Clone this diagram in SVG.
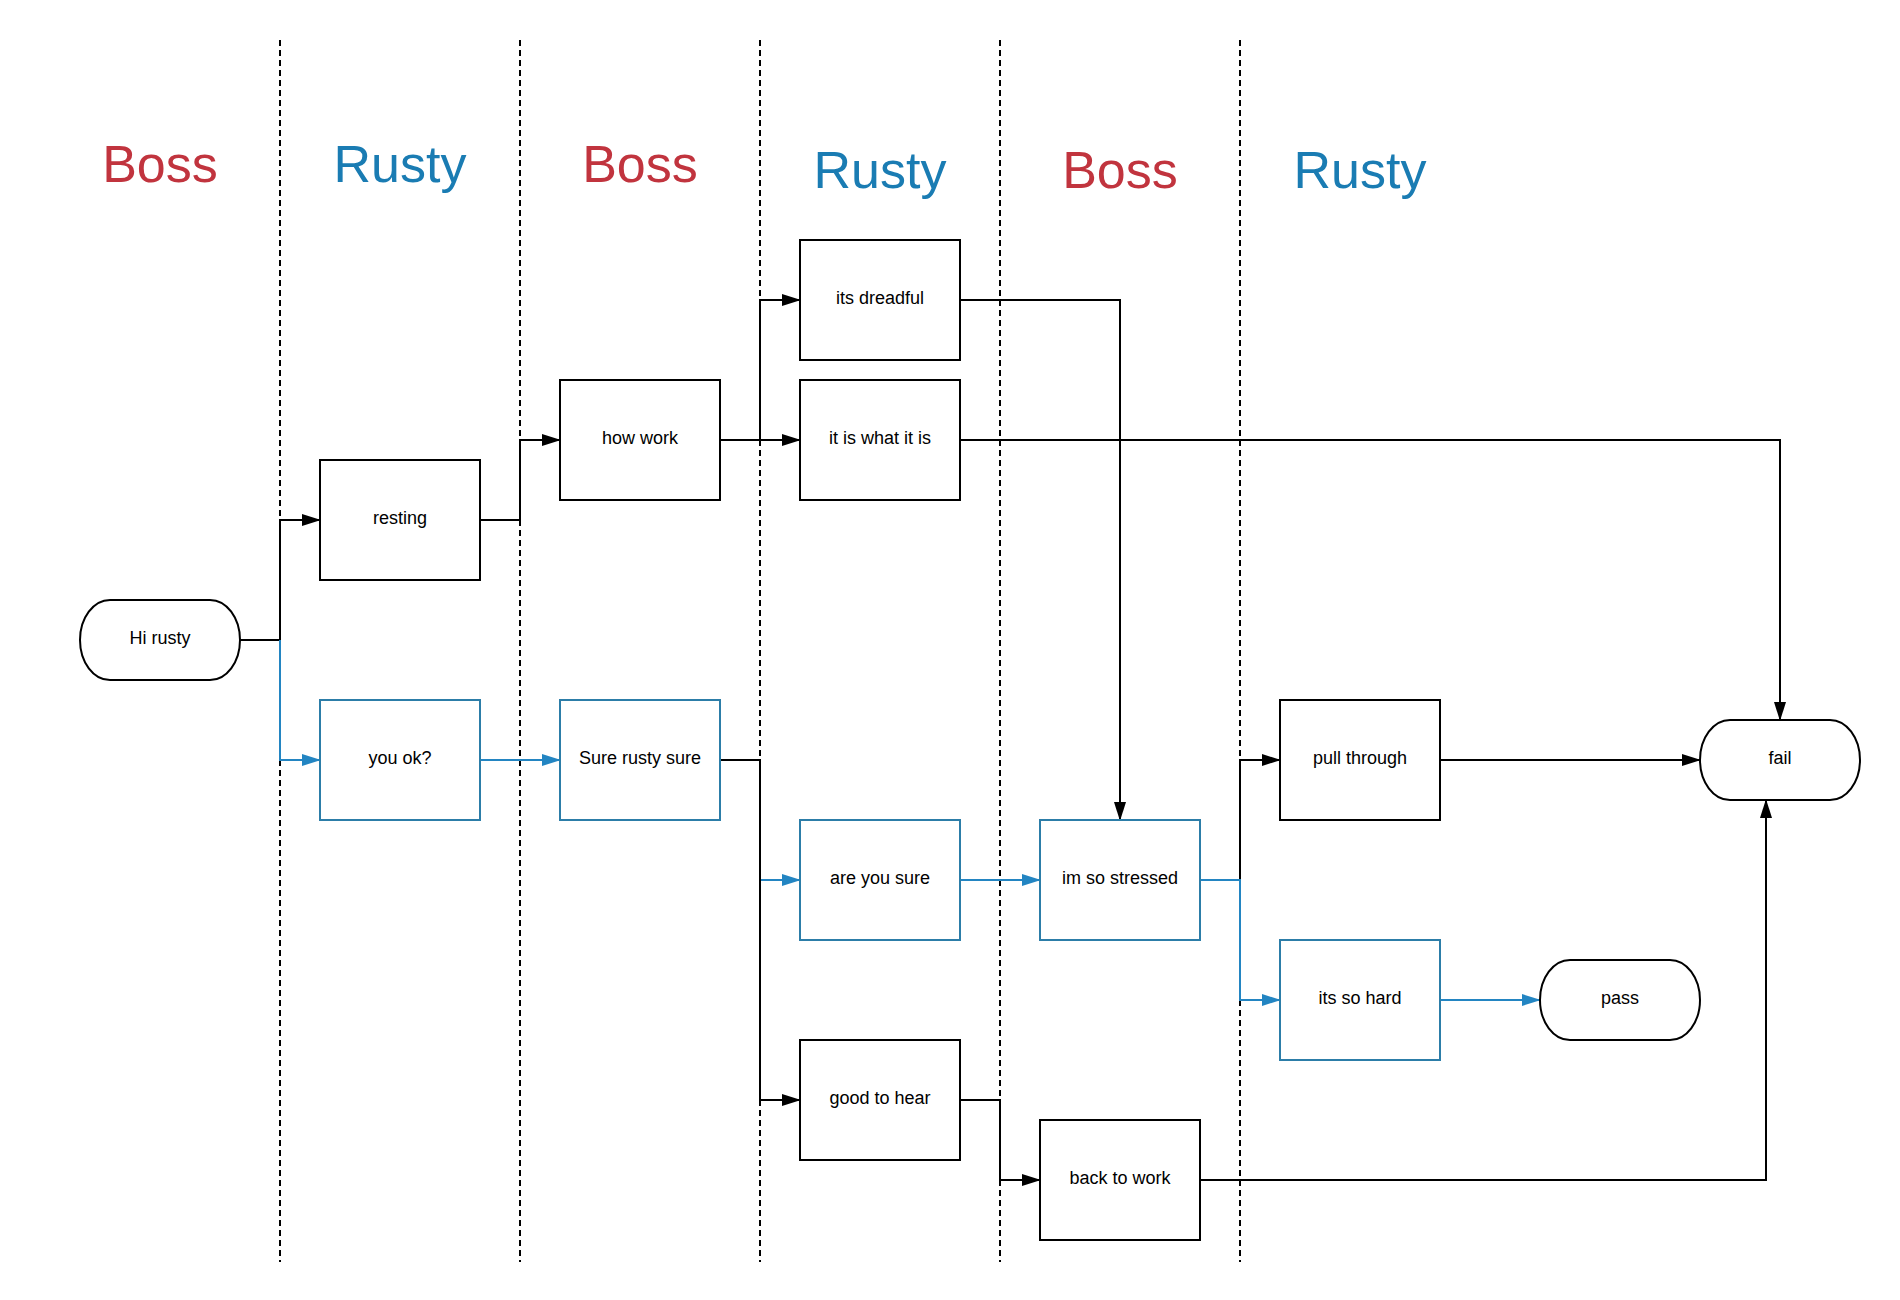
<svg xmlns="http://www.w3.org/2000/svg" width="1900" height="1300" viewBox="0 0 1900 1300">
<defs>
<style>
.lane{stroke:#000;stroke-width:2;stroke-dasharray:6 4;fill:none}
.hb{font-family:"Liberation Sans",Arial,sans-serif;font-size:52px;fill:#c1343e;text-anchor:middle}
.hr{font-family:"Liberation Sans",Arial,sans-serif;font-size:52px;fill:#1a7cb3;text-anchor:middle}
.box{fill:#fff;stroke:#000;stroke-width:2}
.bbox{fill:#fff;stroke:#2c7da8;stroke-width:2}
.t{font-family:"Liberation Sans",Arial,sans-serif;font-size:18px;fill:#000;text-anchor:middle}
.c{fill:none;stroke:#000;stroke-width:2}
.cb{fill:none;stroke:#2385c2;stroke-width:2}
</style>
<marker id="ak" markerUnits="userSpaceOnUse" markerWidth="19" markerHeight="12" refX="18" refY="6" orient="auto">
<path d="M0,0 L19,6 L0,12 Z" fill="#000"/>
</marker>
<marker id="ab" markerUnits="userSpaceOnUse" markerWidth="19" markerHeight="12" refX="18" refY="6" orient="auto">
<path d="M0,0 L19,6 L0,12 Z" fill="#2385c2"/>
</marker>
</defs>
<rect width="1900" height="1300" fill="#fff"/>
<g id="lanes">
<line class="lane" x1="280" y1="40" x2="280" y2="1262"/>
<line class="lane" x1="520" y1="40" x2="520" y2="1262"/>
<line class="lane" x1="760" y1="40" x2="760" y2="1262"/>
<line class="lane" x1="1000" y1="40" x2="1000" y2="1262"/>
<line class="lane" x1="1240" y1="40" x2="1240" y2="1262"/>
</g>
<g id="headers">
<text class="hb" x="160" y="182">Boss</text>
<text class="hr" x="400" y="182">Rusty</text>
<text class="hb" x="640" y="182">Boss</text>
<text class="hr" x="880" y="188">Rusty</text>
<text class="hb" x="1120" y="188">Boss</text>
<text class="hr" x="1360" y="188">Rusty</text>
</g>
<g id="connectors">
<polyline class="c" points="240,640 280,640 280,520 320,520" marker-end="url(#ak)"/>
<polyline class="cb" points="280,640 280,760 320,760" marker-end="url(#ab)"/>
<polyline class="c" points="480,520 520,520 520,440 560,440" marker-end="url(#ak)"/>
<polyline class="cb" points="480,760 560,760" marker-end="url(#ab)"/>
<polyline class="c" points="720,440 760,440 760,300 800,300" marker-end="url(#ak)"/>
<polyline class="c" points="720,440 800,440" marker-end="url(#ak)"/>
<polyline class="cb" points="760,880 800,880" marker-end="url(#ab)"/>
<polyline class="c" points="720,760 760,760 760,1100 800,1100" marker-end="url(#ak)"/>
<polyline class="c" points="960,300 1120,300 1120,820" marker-end="url(#ak)"/>
<polyline class="c" points="960,440 1780,440 1780,720" marker-end="url(#ak)"/>
<polyline class="cb" points="960,880 1040,880" marker-end="url(#ab)"/>
<polyline class="c" points="1200,880 1240,880 1240,760 1280,760" marker-end="url(#ak)"/>
<polyline class="cb" points="1200,880 1240,880 1240,1000 1280,1000" marker-end="url(#ab)"/>
<polyline class="c" points="1440,760 1700,760" marker-end="url(#ak)"/>
<polyline class="cb" points="1440,1000 1540,1000" marker-end="url(#ab)"/>
<polyline class="c" points="960,1100 1000,1100 1000,1180 1040,1180" marker-end="url(#ak)"/>
<polyline class="c" points="1200,1180 1766,1180 1766,800" marker-end="url(#ak)"/>
</g>
<g id="hi-rusty"><rect class="box" x="80" y="600" width="160" height="80" rx="30" ry="40"/><text class="t" x="160" y="644">Hi rusty</text></g>
<g id="resting"><rect class="box" x="320" y="460" width="160" height="120"/><text class="t" x="400" y="524">resting</text></g>
<g id="you-ok"><rect class="bbox" x="320" y="700" width="160" height="120"/><text class="t" x="400" y="764">you ok?</text></g>
<g id="how-work"><rect class="box" x="560" y="380" width="160" height="120"/><text class="t" x="640" y="444">how work</text></g>
<g id="sure-rusty-sure"><rect class="bbox" x="560" y="700" width="160" height="120"/><text class="t" x="640" y="764">Sure rusty sure</text></g>
<g id="its-dreadful"><rect class="box" x="800" y="240" width="160" height="120"/><text class="t" x="880" y="304">its dreadful</text></g>
<g id="it-is-what-it-is"><rect class="box" x="800" y="380" width="160" height="120"/><text class="t" x="880" y="444">it is what it is</text></g>
<g id="are-you-sure"><rect class="bbox" x="800" y="820" width="160" height="120"/><text class="t" x="880" y="884">are you sure</text></g>
<g id="good-to-hear"><rect class="box" x="800" y="1040" width="160" height="120"/><text class="t" x="880" y="1104">good to hear</text></g>
<g id="im-so-stressed"><rect class="bbox" x="1040" y="820" width="160" height="120"/><text class="t" x="1120" y="884">im so stressed</text></g>
<g id="back-to-work"><rect class="box" x="1040" y="1120" width="160" height="120"/><text class="t" x="1120" y="1184">back to work</text></g>
<g id="pull-through"><rect class="box" x="1280" y="700" width="160" height="120"/><text class="t" x="1360" y="764">pull through</text></g>
<g id="its-so-hard"><rect class="bbox" x="1280" y="940" width="160" height="120"/><text class="t" x="1360" y="1004">its so hard</text></g>
<g id="pass"><rect class="box" x="1540" y="960" width="160" height="80" rx="30" ry="40"/><text class="t" x="1620" y="1004">pass</text></g>
<g id="fail"><rect class="box" x="1700" y="720" width="160" height="80" rx="30" ry="40"/><text class="t" x="1780" y="764">fail</text></g>
</svg>
